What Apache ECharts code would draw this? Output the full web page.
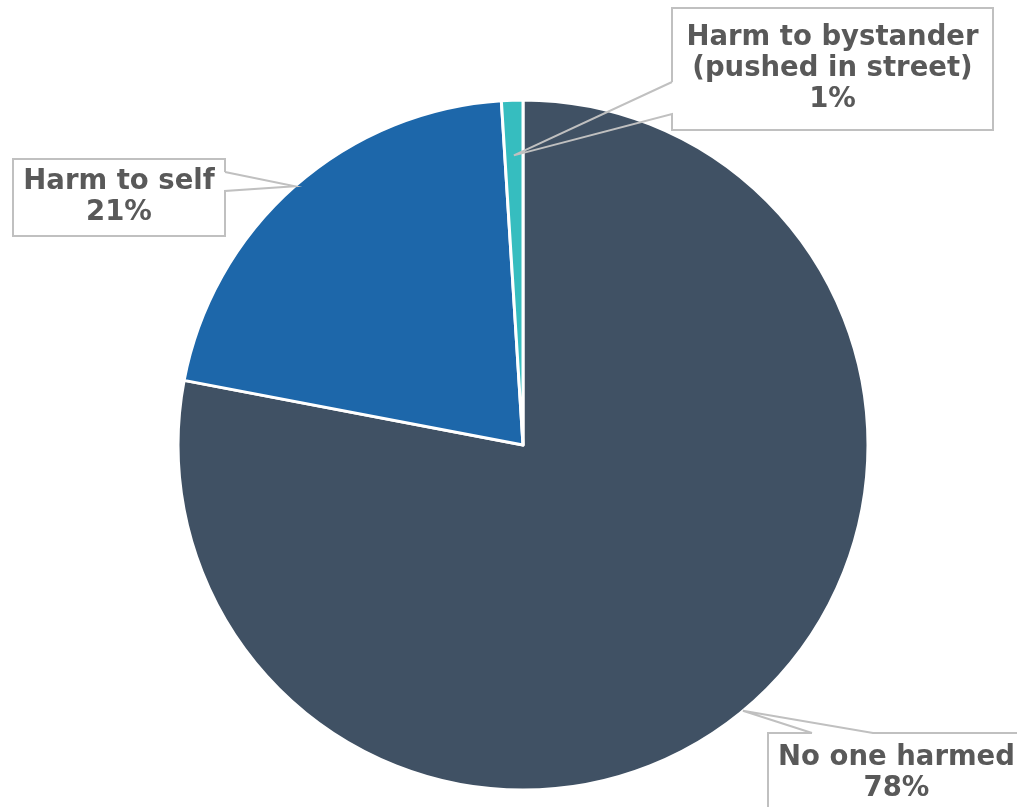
<!DOCTYPE html>
<html>
<head>
<meta charset="utf-8">
<script src="https://cdn.jsdelivr.net/npm/echarts@6/dist/echarts.min.js"></script>
<style>
  html, body { margin: 0; padding: 0; background: #ffffff; }
  #chart { width: 1017px; height: 807px; }
</style>
</head>
<body>
<div id="chart"></div>
<script>
// Outcome categories and their shares (percent)
const categories = ['No one harmed', 'Harm to self', 'Harm to bystander\n(pushed in street)'];
const shares = [78, 21, 1];
const sliceColors = ['#405164', '#1d67aa', '#36bdbf'];

// Pie geometry
const CENTER = [523, 445];
const RADIUS = 345;

// Callout boxes: rectangle, where the pointer leaves the box, and how deep into the slice it reaches
const callouts = [
  { box: [768, 733, 272, 90], gap: [[812, 733], [873, 733]], side: 'top', depth: 1.0 },
  { box: [13, 159, 212, 77], gap: [[225, 172], [225, 191]], side: 'right', depth: 1.0 },
  { box: [672, 8, 321, 122], gap: [[672, 82], [672, 114]], side: 'left', depth: 0.84 }
];

const total = shares.reduce((a, b) => a + b, 0);

// Mid angle of each slice, clockwise from 12 o'clock, in radians
function midAngle(i) {
  let before = 0;
  for (let k = 0; k < i; k++) before += shares[k];
  return (before + shares[i] / 2) / total * Math.PI * 2;
}

// Closed callout outline: pointer first, then around the box back to the start
function calloutPath(i) {
  const c = callouts[i];
  const [x, y, w, h] = c.box;
  const a = midAngle(i);
  const r = RADIUS * c.depth;
  const tip = [CENTER[0] + r * Math.sin(a), CENTER[1] - r * Math.cos(a)];
  const [p, q] = c.gap;
  let corners;
  if (c.side === 'top') corners = [[x + w, y], [x + w, y + h], [x, y + h], [x, y]];
  else if (c.side === 'right') corners = [[x + w, y + h], [x, y + h], [x, y], [x + w, y]];
  else corners = [[x, y + h], [x + w, y + h], [x + w, y], [x, y]];
  return [p, tip, q].concat(corners).concat([p]);
}

const chart = echarts.init(document.getElementById('chart'), null, { renderer: 'canvas' });

chart.setOption({
  backgroundColor: '#ffffff',
  animation: false,
  // Callout outlines drawn above the slices
  graphic: callouts.map((c, i) => ({
    type: 'polyline',
    z: 100,
    silent: true,
    shape: { points: calloutPath(i) },
    style: { stroke: '#c0c0c0', lineWidth: 2, fill: null }
  })),
  series: [{
    type: 'pie',
    center: CENTER,
    radius: RADIUS,
    startAngle: 90,
    clockwise: true,
    avoidLabelOverlap: false,
    itemStyle: { borderColor: '#ffffff', borderWidth: 3 },
    label: {
      show: true,
      position: 'outside',
      fontFamily: 'DejaVu Sans',
      fontWeight: 'bold',
      fontSize: 27.5,
      lineHeight: 31,
      color: '#595959',
      align: 'center',
      formatter: p => p.name + '\n' + p.value + '%'
    },
    labelLine: { show: false },
    labelLayout: function (params) {
      const i = params.dataIndex;
      const [x, y, w, h] = callouts[i].box;
      const cy = i === 0 ? y + 40 : y + h / 2;
      return {
        x: x + (i === 0 ? 128.5 : w / 2),
        y: cy,
        align: 'center',
        verticalAlign: 'middle'
      };
    },
    data: categories.map((name, i) => ({
      name: name,
      value: shares[i],
      itemStyle: { color: sliceColors[i] }
    }))
  }]
});
</script>
</body>
</html>
